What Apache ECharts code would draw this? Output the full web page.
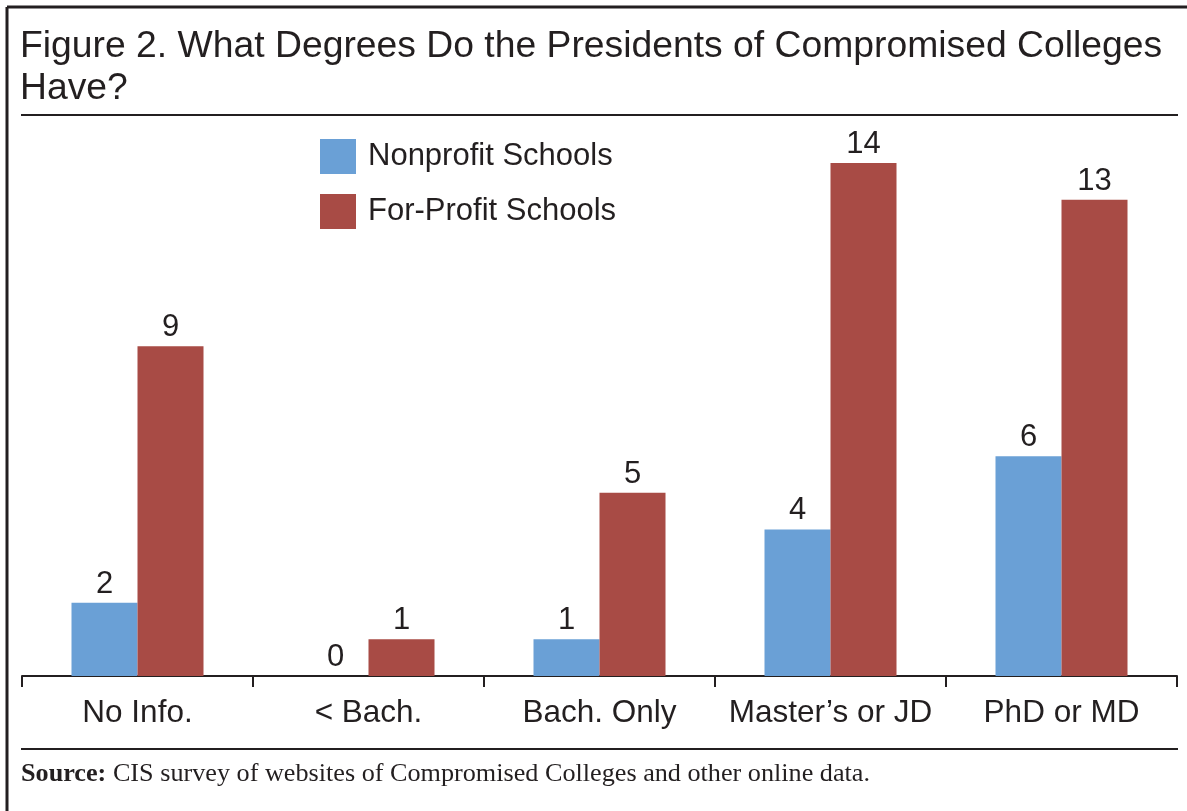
<!DOCTYPE html>
<html>
<head>
<meta charset="utf-8">
<script src="https://cdn.jsdelivr.net/npm/echarts@6/dist/echarts.min.js"></script>
<style>html,body{margin:0;padding:0;background:#fff;}#c{width:1187px;height:811px;}</style>
</head>
<body>
<div id="c"></div>
<script>
const categories = ["No Info.", "< Bach.", "Bach. Only", "Master\u2019s or JD", "PhD or MD"];
const nonprofit = [2, 0, 1, 4, 6];
const forprofit = [9, 1, 5, 14, 13];
const seriesNames = ["Nonprofit Schools", "For-Profit Schools"];
const titleText = "Figure 2. What Degrees Do the Presidents of Compromised Colleges\nHave?";
const sourceLabel = "Source:";
const sourceText = " CIS survey of websites of Compromised Colleges and other online data.";

const ink = '#231f20';
const sans = '"Liberation Sans", Arial, Helvetica, sans-serif';
const serif = '"Liberation Serif", "Times New Roman", serif';
const chart = echarts.init(document.getElementById('c'), null, {renderer: 'canvas'});
const labelCfg = {show: true, position: 'top', distance: 3, color: ink, fontFamily: sans, fontSize: 31};
chart.setOption({
  animation: false,
  backgroundColor: '#fff',
  title: {
    text: titleText, left: 20, top: 26, padding: 0,
    textStyle: {color: ink, fontFamily: sans, fontSize: 37.3, fontWeight: 'normal', lineHeight: 42}
  },
  legend: {
    orient: 'vertical', left: 320, top: 139, padding: 0,
    itemWidth: 36, itemHeight: 35, itemGap: 20,
    icon: 'rect',
    textStyle: {color: ink, fontFamily: sans, fontSize: 31, padding: [3, 0, 0, 7]},
    data: seriesNames
  },
  grid: {left: 22, right: 10, top: 163, bottom: 135, containLabel: false},
  xAxis: {
    type: 'category', data: categories,
    axisLine: {lineStyle: {color: ink, width: 2}},
    axisTick: {show: true, interval: 0, length: 11, lineStyle: {color: ink, width: 2}},
    axisLabel: {interval: 0, color: ink, fontFamily: sans, fontSize: 31.5, margin: 21}
  },
  yAxis: {type: 'value', min: 0, max: 14, show: false, splitLine: {show: false}},
  series: [
    {name: seriesNames[0], type: 'bar', data: nonprofit, barWidth: 66, barGap: '0%',
     itemStyle: {color: '#6aa0d6'}, label: labelCfg},
    {name: seriesNames[1], type: 'bar', data: forprofit, barWidth: 66, barGap: '0%',
     itemStyle: {color: '#a84b45'}, label: labelCfg}
  ],
  graphic: [
    {type: 'line', shape: {x1: 7, y1: 7, x2: 1187, y2: 7}, style: {stroke: ink, lineWidth: 3}},
    {type: 'line', shape: {x1: 7, y1: 7, x2: 7, y2: 811}, style: {stroke: ink, lineWidth: 3}},
    {type: 'line', shape: {x1: 21, y1: 115, x2: 1178, y2: 115}, style: {stroke: ink, lineWidth: 2}},
    {type: 'line', shape: {x1: 21, y1: 749, x2: 1178, y2: 749}, style: {stroke: ink, lineWidth: 2}},
    {type: 'text', left: 21, top: 761,
     style: {text: '{b|' + sourceLabel + '}' + sourceText, fill: ink, font: '26.2px ' + serif,
       rich: {b: {fontWeight: 'bold', fontFamily: serif, fontSize: 26.2, fill: ink}}}}
  ]
});
</script>
</body>
</html>
